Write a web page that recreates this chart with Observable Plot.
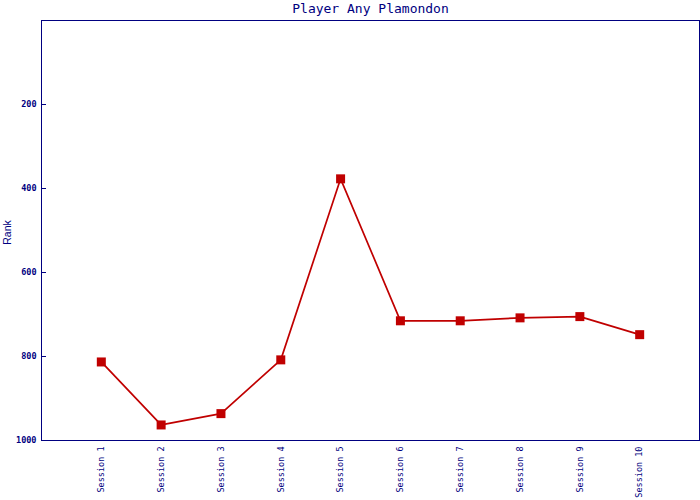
<!DOCTYPE html>
<html>
<head>
<meta charset="utf-8">
<script src="https://cdn.jsdelivr.net/npm/d3@7"></script>
<script src="https://cdn.jsdelivr.net/npm/@observablehq/plot@0.6"></script>
<style>
  html, body { margin: 0; padding: 0; background: #fff; }
  svg { display: block; }
</style>
</head>
<body>
<div id="chart"></div>
<script>
const title = "Player Any Plamondon";
const yLabel = "Rank";
const sessions = ["Session 1","Session 2","Session 3","Session 4","Session 5","Session 6","Session 7","Session 8","Session 9","Session 10"];
const ranks = [813, 963, 936, 808, 377, 715, 715, 708, 705, 748];
const yTicks = [200, 400, 600, 800, 1000];

const data = sessions.map((s, i) => ({session: s, rank: ranks[i]}));
const navy = "#000080";
const red = "#c00000";
const mono = "'DejaVu Sans Mono', monospace";

const chart = Plot.plot({
  width: 700,
  height: 500,
  marginLeft: 41,
  marginRight: 1,
  marginTop: 20,
  marginBottom: 60,
  style: {background: "#fff", color: navy},
  x: {type: "point", domain: sessions, padding: 1, round: false},
  y: {domain: [0, 1000], reverse: true},
  marks: [
    Plot.ruleY(yTicks, {stroke: navy, strokeWidth: 1, insetRight: 653}),
    Plot.frame({stroke: navy, strokeWidth: 1}),
    Plot.axisY({ticks: yTicks, tickSize: 0, tickPadding: 5, label: null, tickFormat: d3.format("d"),
      fontFamily: mono, fontSize: 8.5, fontWeight: "bold", fill: navy}),
    Plot.axisX({tickRotate: -90, tickSize: 0, tickPadding: 6, label: null,
      fontFamily: mono, fontSize: 8.5, fill: navy}),
    Plot.line(data, {x: "session", y: "rank", stroke: red, strokeWidth: 1.7}),
    Plot.dot(data, {x: "session", y: "rank", symbol: "square", r: 5.08, fill: red, stroke: "none"}),
    Plot.text([title], {frameAnchor: "top", dy: -12, lineAnchor: "middle", text: d => d, fontFamily: mono, fontSize: 13, fill: navy}),
    Plot.text([yLabel], {frameAnchor: "left", dx: -34, dy: 2, rotate: -90, textAnchor: "middle", text: d => d, fontFamily: "'Liberation Sans', Arial, sans-serif", fontSize: 10.5, fill: navy})
  ]
});
document.getElementById("chart").appendChild(chart);
</script>
</body>
</html>
